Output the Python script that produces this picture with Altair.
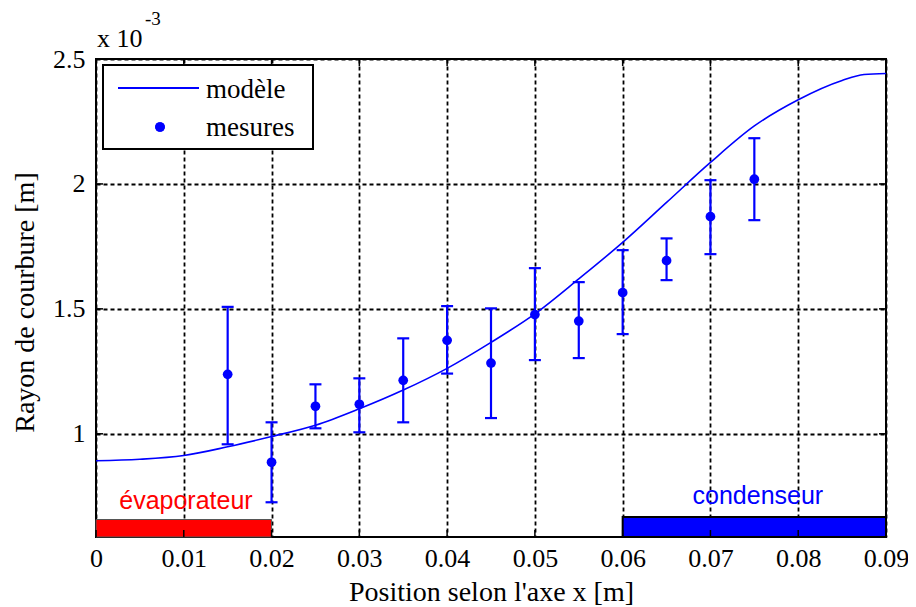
import altair as alt
import pandas as pd

# ---- data (values in units of 1e-3 m) ----
model_x = [0, 0.005, 0.01, 0.015, 0.02, 0.025, 0.03, 0.035, 0.04, 0.045, 0.05,
           0.055, 0.06, 0.065, 0.07, 0.075, 0.08, 0.085, 0.0875, 0.09]
model_y = [0.892, 0.898, 0.913, 0.948, 0.989, 1.034, 1.10, 1.175, 1.262, 1.366, 1.48,
           1.62, 1.766, 1.926, 2.086, 2.232, 2.337, 2.414, 2.438, 2.442]

meas_x = [0.015, 0.02, 0.025, 0.03, 0.035, 0.04, 0.045, 0.05, 0.055, 0.06, 0.065, 0.07, 0.075]
meas_y = [1.238, 0.886, 1.110, 1.118, 1.214, 1.374, 1.283, 1.477, 1.451, 1.565, 1.693, 1.869, 2.019]
meas_lo = [0.958, 0.726, 1.022, 1.006, 1.046, 1.241, 1.063, 1.295, 1.303, 1.399, 1.615, 1.719, 1.855]
meas_hi = [1.508, 1.046, 1.198, 1.222, 1.382, 1.511, 1.502, 1.663, 1.607, 1.735, 1.782, 2.015, 2.183]

zone_names = ["évaporateur", "condenseur"]
zone_start = [0.0, 0.06]
zone_end = [0.02, 0.09]
zone_top = [0.657, 0.667]
zone_colors = ["#ff0000", "#0000ff"]
zone_label_x = [0.01025, 0.0754]
zone_label_y = [0.698, 0.721]

x_ticks = [0, 0.01, 0.02, 0.03, 0.04, 0.05, 0.06, 0.07, 0.08, 0.09]
y_ticks = [1, 1.5, 2, 2.5]

Y_MIN, Y_MAX = 0.587, 2.5
W, H = 790, 478
SERIF = "Liberation Serif"
SANS = "Liberation Sans"
BLUE = "#0000ff"

model_df = pd.DataFrame({"x": model_x, "y": model_y})
meas_df = pd.DataFrame({"x": meas_x, "y": meas_y, "lo": meas_lo, "hi": meas_hi})
zone_df = pd.DataFrame({"name": zone_names, "x0": zone_start, "x1": zone_end,
                        "top": zone_top, "bottom": [Y_MIN, Y_MIN], "color": zone_colors,
                        "lx": zone_label_x, "ly": zone_label_y,
                        "stroke": ["#555555", "#000000"], "sw": [1.0, 2.0]})
xt_df = pd.DataFrame({"x": x_ticks})
yt_df = pd.DataFrame({"y": y_ticks})

xscale = alt.Scale(domain=[0, 0.09], nice=False, zero=False)
yscale = alt.Scale(domain=[Y_MIN, Y_MAX], nice=False, zero=False)

x_axis = alt.Axis(values=x_ticks, title="Position selon l'axe x [m]",
                  labelExpr="datum.value == 0 ? '0' : format(datum.value, '.2f')",
                  grid=True, gridColor="black", gridDash=[4, 3], gridWidth=1.8,
                  gridOpacity=1, domain=False, ticks=False, labelPadding=8,
                  labelFont=SERIF, labelFontSize=26, labelColor="black",
                  titleFont=SERIF, titleFontSize=28, titleFontWeight="normal",
                  titleColor="black", titleBaseline="alphabetic", titleY=63,
                  labelFlush=False, labelOverlap=False)
y_axis = alt.Axis(values=y_ticks, title="Rayon de courbure [m]", format="~g",
                  grid=True, gridColor="black", gridDash=[4, 3], gridWidth=1.8,
                  gridOpacity=1, domain=False, ticks=False, labelPadding=11,
                  labelFont=SERIF, labelFontSize=26, labelColor="black",
                  titleFont=SERIF, titleFontSize=28, titleFontWeight="normal",
                  titleColor="black", titleAngle=-90, titleBaseline="alphabetic",
                  titleX=-63, titleY=243, titleAlign="center",
                  labelFlush=False, labelOverlap=False)

base_grid = alt.Chart(model_df).mark_line(opacity=0).encode(
    x=alt.X("x:Q", scale=xscale, axis=x_axis),
    y=alt.Y("y:Q", scale=yscale, axis=y_axis),
)

zones = alt.Chart(zone_df).mark_rect().encode(
    x=alt.X("x0:Q", scale=xscale), x2="x1:Q",
    y=alt.Y("bottom:Q", scale=yscale), y2="top:Q",
    fill=alt.Fill("color:N", scale=None),
    stroke=alt.Stroke("stroke:N", scale=None),
    strokeWidth=alt.StrokeWidth("sw:Q", scale=None),
)

zone_text = alt.Chart(zone_df).mark_text(font=SANS, fontSize=25, baseline="alphabetic",
                                          align="center").encode(
    x=alt.X("lx:Q", scale=xscale), y=alt.Y("ly:Q", scale=yscale),
    text="name:N", color=alt.Color("color:N", scale=None),
)

model_line = alt.Chart(model_df).mark_line(color=BLUE, strokeWidth=1.6,
                                           interpolate="monotone").encode(
    x=alt.X("x:Q", scale=xscale), y=alt.Y("y:Q", scale=yscale))

err = alt.Chart(meas_df).mark_rule(color=BLUE, strokeWidth=2.2).encode(
    x=alt.X("x:Q", scale=xscale), y=alt.Y("lo:Q", scale=yscale), y2="hi:Q")

cap_shape = "M -1 0 L 1 0"
cap_lo = alt.Chart(meas_df).mark_point(shape=cap_shape, size=144, filled=False,
                                        color=BLUE, strokeWidth=2.2, opacity=1).encode(
    x=alt.X("x:Q", scale=xscale), y=alt.Y("lo:Q", scale=yscale))
cap_hi = alt.Chart(meas_df).mark_point(shape=cap_shape, size=144, filled=False,
                                        color=BLUE, strokeWidth=2.2, opacity=1).encode(
    x=alt.X("x:Q", scale=xscale), y=alt.Y("hi:Q", scale=yscale))

pts = alt.Chart(meas_df).mark_circle(color=BLUE, size=95, opacity=1).encode(
    x=alt.X("x:Q", scale=xscale), y=alt.Y("y:Q", scale=yscale))

# inward ticks on all four sides
xt_bottom = alt.Chart(xt_df).mark_rule(color="black", strokeWidth=1.5).encode(
    x=alt.X("x:Q", scale=xscale), y=alt.value(H - 7), y2=alt.value(H))
xt_top = alt.Chart(xt_df).mark_rule(color="black", strokeWidth=1.5).encode(
    x=alt.X("x:Q", scale=xscale), y=alt.value(0), y2=alt.value(7))
yt_left = alt.Chart(yt_df).mark_rule(color="black", strokeWidth=1.5).encode(
    y=alt.Y("y:Q", scale=yscale), x=alt.value(0), x2=alt.value(7))
yt_right = alt.Chart(yt_df).mark_rule(color="black", strokeWidth=1.5).encode(
    y=alt.Y("y:Q", scale=yscale), x=alt.value(W - 7), x2=alt.value(W))

# legend
leg_df = pd.DataFrame({"label": ["modèle", "mesures"], "ty": [31, 69]})
leg_box = alt.Chart(leg_df).mark_rect(fill="white", stroke="black", strokeWidth=2).encode(
    x=alt.value(7), x2=alt.value(217), y=alt.value(6), y2=alt.value(90))
leg_line = alt.Chart(leg_df).mark_rule(color=BLUE, strokeWidth=1.8).encode(
    x=alt.value(22), x2=alt.value(103), y=alt.value(29))
leg_pt = alt.Chart(leg_df).mark_circle(color=BLUE, size=95, opacity=1).encode(
    x=alt.value(64), y=alt.value(68))
leg_text = alt.Chart(leg_df).mark_text(font=SERIF, fontSize=27, align="left",
                                        baseline="middle", color="black").encode(
    x=alt.value(110), y=alt.Y("ty:Q", scale=None), text="label:N")

# exponent label
exp_df = pd.DataFrame({"t": ["x 10", "-3"], "px": [1, 49], "py": [-12, -34], "fs": [26, 19]})
exp_text = alt.Chart(exp_df).mark_text(font=SERIF, align="left", baseline="alphabetic",
                                        color="black").encode(
    x=alt.X("px:Q", scale=None), y=alt.Y("py:Q", scale=None), text="t:N",
    size=alt.Size("fs:Q", scale=None))

chart = alt.layer(
    base_grid, zones, zone_text, model_line, err, cap_lo, cap_hi, pts,
    xt_bottom, xt_top, yt_left, yt_right,
    leg_box, leg_line, leg_pt, leg_text, exp_text,
).properties(
    width=W, height=H,
    autosize=alt.AutoSizeParams(type="none"),
    padding={"left": 88, "top": 51, "right": 22, "bottom": 68},
    background="white",
).configure_view(stroke="black", strokeWidth=2)

chart.save("out.html", embed_options={"renderer": "svg", "actions": False})
